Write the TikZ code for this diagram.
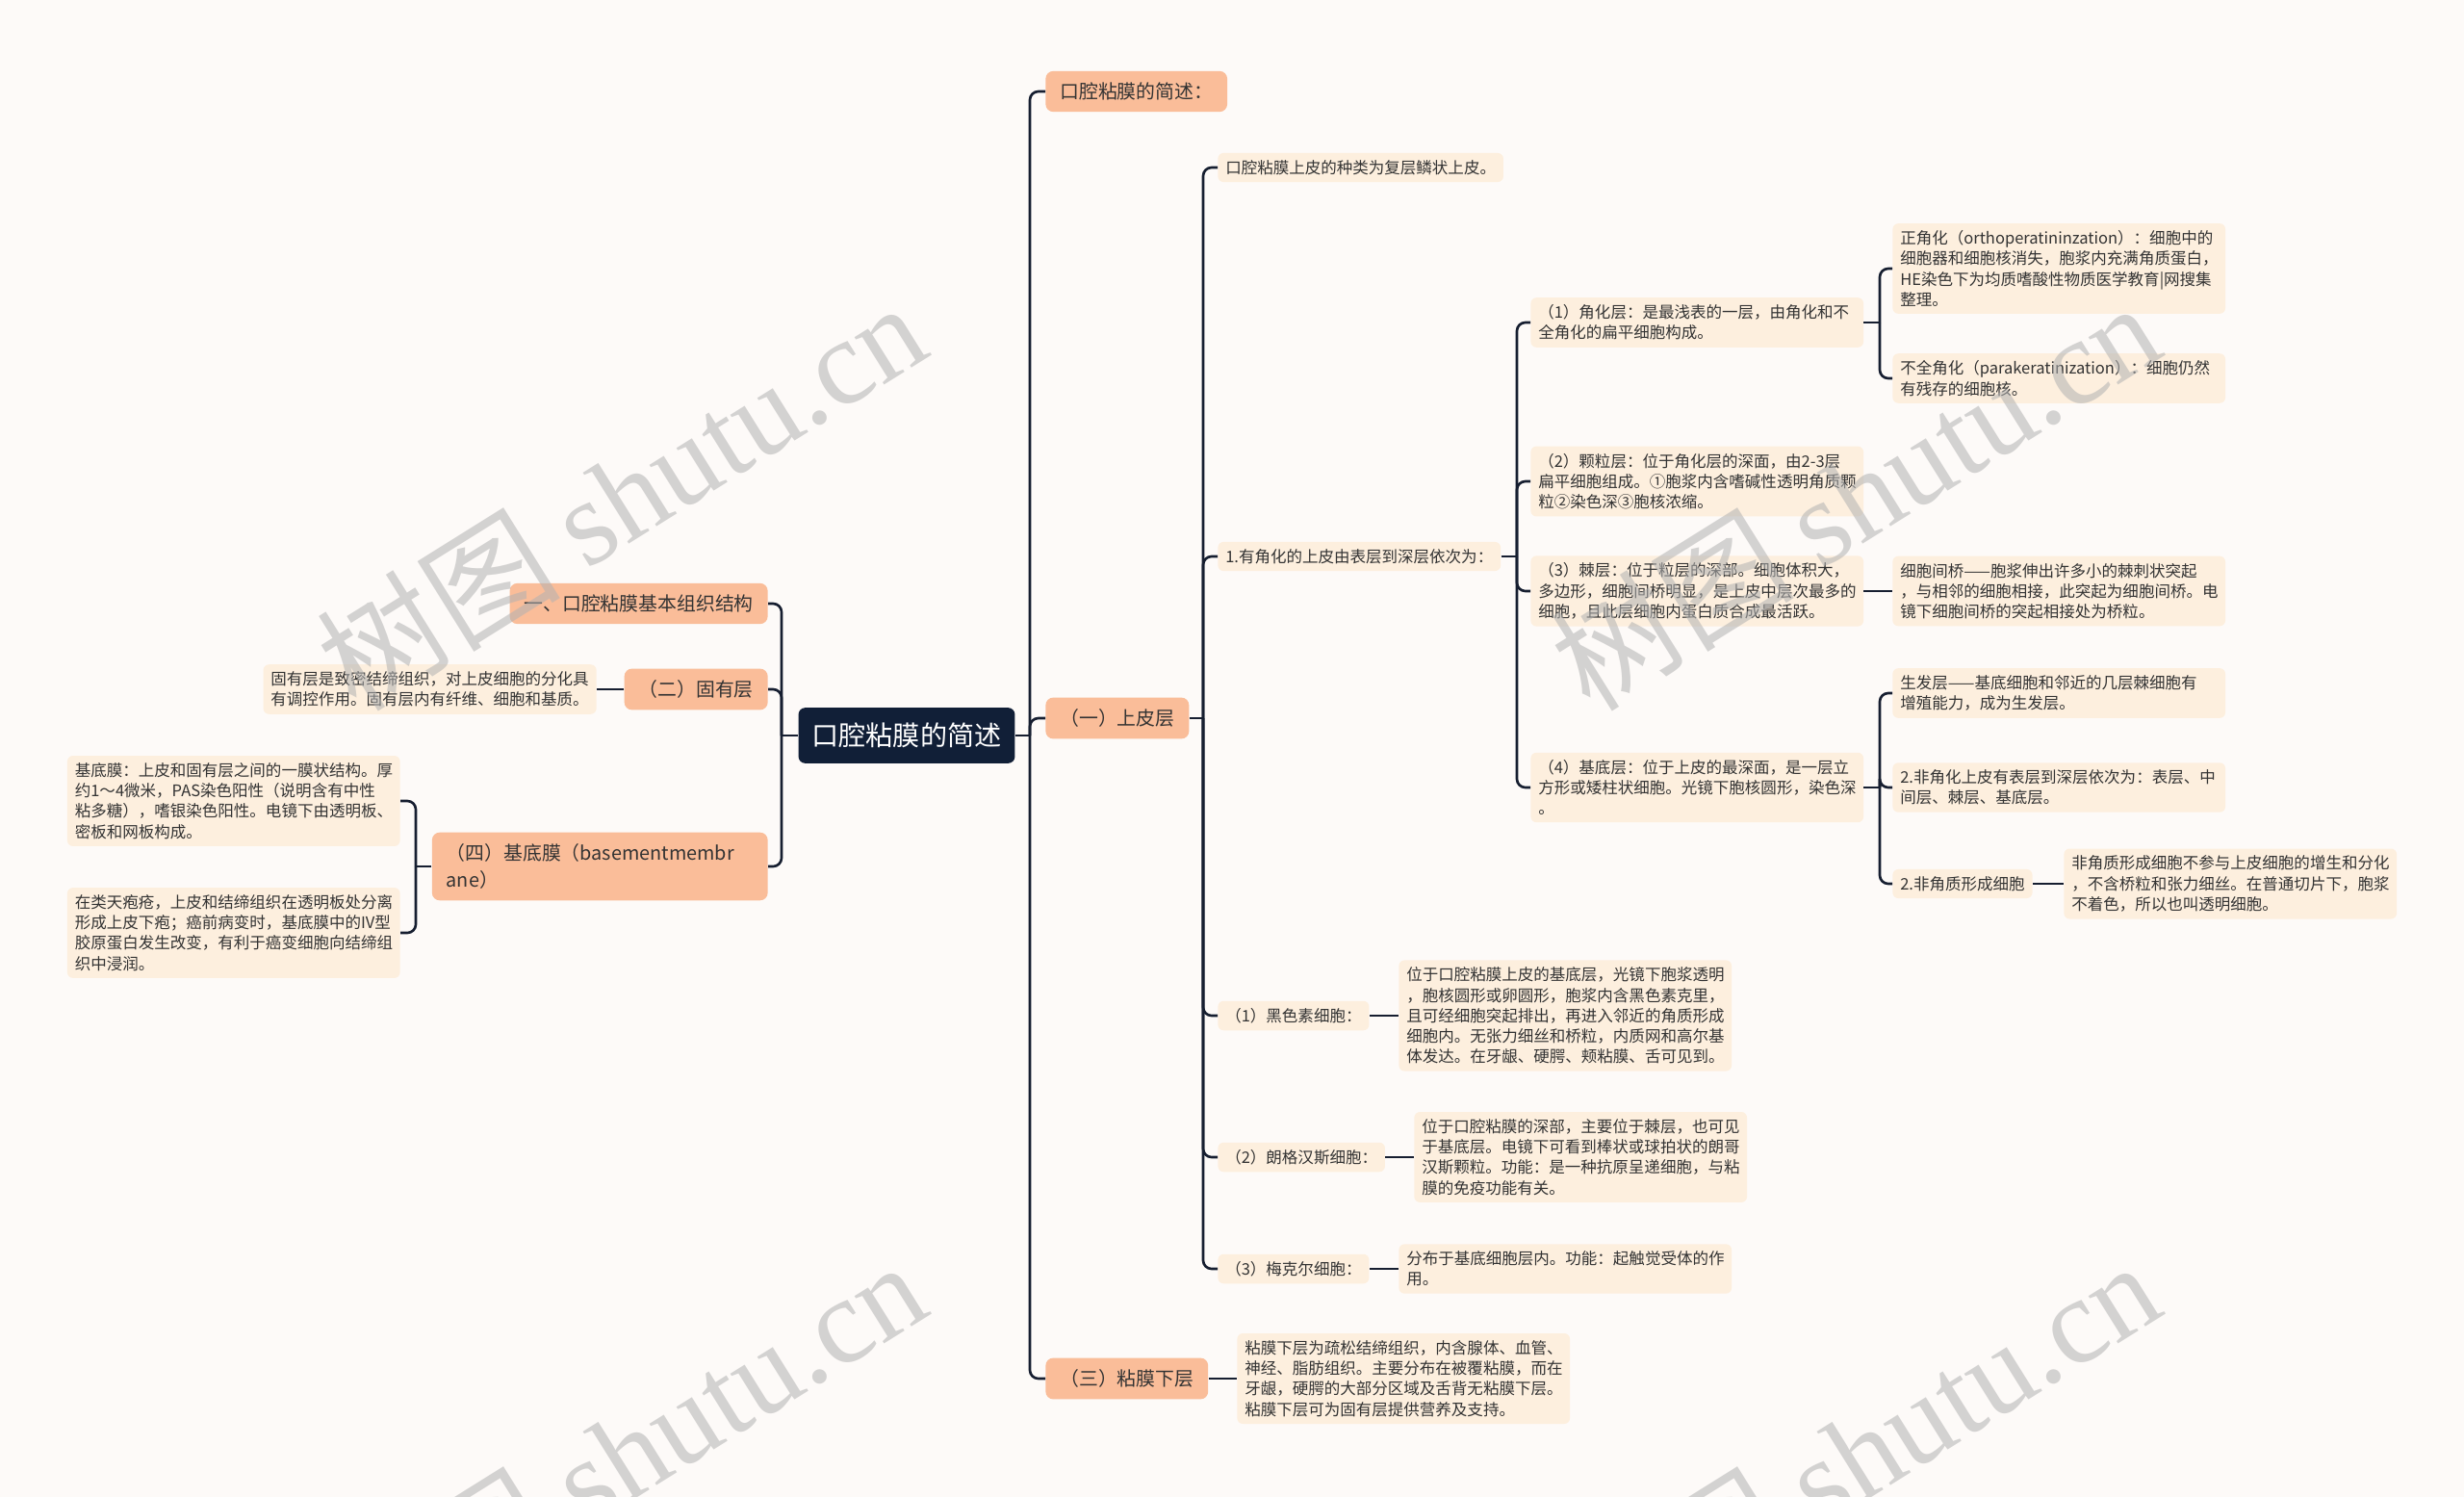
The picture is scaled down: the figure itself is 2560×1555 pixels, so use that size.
\documentclass[tikz,border=0pt]{standalone}
\usepackage{fontspec}
\setmainfont{Noto Sans CJK SC}
\newfontfamily\wmlatin{Liberation Serif}
\definecolor{OMbg}{RGB}{253,250,248}
\definecolor{OMnavy}{RGB}{17,31,55}
\definecolor{OMorange}{RGB}{250,189,153}
\definecolor{OMcream}{RGB}{253,239,222}
\definecolor{OMtext}{RGB}{51,51,51}
\definecolor{OMline}{RGB}{22,30,48}

\tikzset{OMroot/.style={fill=OMnavy,text=white,rounded corners=4pt,inner xsep=8pt,inner ysep=9pt,font=\fontsize{16}{19}\selectfont},
         OMmain/.style={fill=OMorange,text=OMtext,rounded corners=4.5pt,inner xsep=8.5pt,inner ysep=6.8pt,font=\fontsize{11.3}{15.8}\selectfont,align=left},
         OMleaf/.style={fill=OMcream,text=OMtext,rounded corners=3.4pt,inner xsep=4.5pt,inner ysep=4.2pt,font=\fontsize{9.4}{12.1}\selectfont,align=left},
         OMwide/.style={OMleaf,text width=6.6cm},
         OMlink/.style={draw=OMline,line width=1.5pt,rounded corners=5pt},
         OMmark/.style={text=gray!60,opacity=0.55,rotate=32,font=\fontsize{72}{72}\selectfont}}

\begin{document}
\begin{tikzpicture}[x=0.02cm,y=-0.02cm]
  \useasboundingbox (0,0) rectangle (2560,1555);
  \clip (0,0) rectangle (2560,1555);
  \fill[OMbg] (0,0) rectangle (2560,1555);
  % root and first level
  \node[OMroot] (root) at (942,764) {口腔粘膜的简述};
  \node[OMmain,anchor=west] (jianshu) at (1086,95) {口腔粘膜的简述：};
  \node[OMmain,anchor=west] (shangpi) at (1086,746) {（一）上皮层};
  \node[OMmain,anchor=west] (xiaceng) at (1086,1432) {（三）粘膜下层};
  \node[OMmain,anchor=east] (jiegou) at (798,627) {一、口腔粘膜基本组织结构};
  \node[OMmain,anchor=east] (guyou) at (798,716) {（二）固有层};
  \node[OMmain,anchor=east,text width=6.38cm] (jidimo) at (798,900) {（四）基底膜（basementmembr\\ane）};
  \coordinate (tR) at (1070,764);
  \coordinate (tL) at (812,764);
  \draw[OMlink] (root.east) -- (tR);
  \draw[OMlink] (root.west) -- (tL);
  \foreach \c in {jianshu,shangpi,xiaceng} \draw[OMlink] (tR) |- (\c.west);
  \foreach \c in {jiegou,guyou,jidimo} \draw[OMlink] (tL) |- (\c.east);
  % left side
  \node[OMleaf,anchor=east] (guyou1) at (620,716) {固有层是致密结缔组织，对上皮细胞的分化具\\有调控作用。固有层内有纤维、细胞和基质。};
  \draw[OMlink] (guyou.west) -- (guyou1.east);
  \node[OMwide,anchor=east] (jidimo1) at (416,832) {基底膜：上皮和固有层之间的一膜状结构。厚\\约1～4微米，PAS染色阳性（说明含有中性\\粘多糖），嗜银染色阳性。电镜下由透明板、\\密板和网板构成。};
  \node[OMwide,anchor=east] (jidimo2) at (416,969) {在类天疱疮，上皮和结缔组织在透明板处分离\\形成上皮下疱；癌前病变时，基底膜中的IV型\\胶原蛋白发生改变，有利于癌变细胞向结缔组\\织中浸润。};
  \coordinate (tF) at (432,900);
  \draw[OMlink] (jidimo.west) -- (tF);
  \foreach \c in {jidimo1,jidimo2} \draw[OMlink] (tF) |- (\c.east);
  % epithelium
  \node[OMleaf,anchor=west] (sp1) at (1265,174) {口腔粘膜上皮的种类为复层鳞状上皮。};
  \node[OMleaf,anchor=west] (sp2) at (1265,578) {1.有角化的上皮由表层到深层依次为：};
  \node[OMleaf,anchor=west] (sp3) at (1265,1055) {（1）黑色素细胞：};
  \node[OMleaf,anchor=west] (sp4) at (1265,1202) {（2）朗格汉斯细胞：};
  \node[OMleaf,anchor=west] (sp5) at (1265,1318) {（3）梅克尔细胞：};
  \coordinate (tB) at (1250,746);
  \draw[OMlink] (shangpi.east) -- (tB);
  \foreach \c in {sp1,sp2,sp3,sp4,sp5} \draw[OMlink] (tB) |- (\c.west);
  % keratinized layers
  \node[OMwide,anchor=west] (kl1) at (1590,335) {（1）角化层：是最浅表的一层，由角化和不\\全角化的扁平细胞构成。};
  \node[OMwide,anchor=west] (kl2) at (1590,500) {（2）颗粒层：位于角化层的深面，由2-3层\\扁平细胞组成。①胞浆内含嗜碱性透明角质颗\\粒②染色深③胞核浓缩。};
  \node[OMwide,anchor=west] (kl3) at (1590,614) {（3）棘层：位于粒层的深部。细胞体积大，\\多边形，细胞间桥明显，是上皮中层次最多的\\细胞，且此层细胞内蛋白质合成最活跃。};
  \node[OMwide,anchor=west] (kl4) at (1590,818) {（4）基底层：位于上皮的最深面，是一层立\\方形或矮柱状细胞。光镜下胞核圆形，染色深\\。};
  \coordinate (tK) at (1576,578);
  \draw[OMlink] (sp2.east) -- (tK);
  \foreach \c in {kl1,kl2,kl3,kl4} \draw[OMlink] (tK) |- (\c.west);
  \node[OMwide,anchor=west] (kl1a) at (1966,279) {正角化（orthoperatininzation）：细胞中的\\细胞器和细胞核消失，胞浆内充满角质蛋白，\\HE染色下为均质嗜酸性物质医学教育|网搜集\\整理。};
  \node[OMwide,anchor=west] (kl1b) at (1966,393) {不全角化（parakeratinization）：细胞仍然\\有残存的细胞核。};
  \coordinate (tK1) at (1953,335);
  \draw[OMlink] (kl1.east) -- (tK1);
  \foreach \c in {kl1a,kl1b} \draw[OMlink] (tK1) |- (\c.west);
  \node[OMwide,anchor=west] (kl3a) at (1966,614) {细胞间桥——胞浆伸出许多小的棘刺状突起\\，与相邻的细胞相接，此突起为细胞间桥。电\\镜下细胞间桥的突起相接处为桥粒。};
  \draw[OMlink] (kl3.east) -- (kl3a.west);
  \node[OMwide,anchor=west] (kl4a) at (1966,720) {生发层——基底细胞和邻近的几层棘细胞有\\增殖能力，成为生发层。};
  \node[OMwide,anchor=west] (kl4b) at (1966,818) {2.非角化上皮有表层到深层依次为：表层、中\\间层、棘层、基底层。};
  \node[OMleaf,anchor=west] (kl4c) at (1966,918) {2.非角质形成细胞};
  \coordinate (tK4) at (1953,818);
  \draw[OMlink] (kl4.east) -- (tK4);
  \foreach \c in {kl4a,kl4b,kl4c} \draw[OMlink] (tK4) |- (\c.west);
  \node[OMwide,anchor=west] (kl4d) at (2144,918) {非角质形成细胞不参与上皮细胞的增生和分化\\，不含桥粒和张力细丝。在普通切片下，胞浆\\不着色，所以也叫透明细胞。};
  \draw[OMlink] (kl4c.east) -- (kl4d.west);
  % other cells
  \node[OMwide,anchor=west] (sp3a) at (1453,1055) {位于口腔粘膜上皮的基底层，光镜下胞浆透明\\，胞核圆形或卵圆形，胞浆内含黑色素克里，\\且可经细胞突起排出，再进入邻近的角质形成\\细胞内。无张力细丝和桥粒，内质网和高尔基\\体发达。在牙龈、硬腭、颊粘膜、舌可见到。};
  \node[OMwide,anchor=west] (sp4a) at (1469,1202) {位于口腔粘膜的深部，主要位于棘层，也可见\\于基底层。电镜下可看到棒状或球拍状的朗哥\\汉斯颗粒。功能：是一种抗原呈递细胞，与粘\\膜的免疫功能有关。};
  \node[OMwide,anchor=west] (sp5a) at (1453,1318) {分布于基底细胞层内。功能：起触觉受体的作\\用。};
  \foreach \c in {sp3,sp4,sp5} \draw[OMlink] (\c.east) -- (\c a.west);
  % submucosa
  \node[OMwide,anchor=west] (xiaceng1) at (1285,1432) {粘膜下层为疏松结缔组织，内含腺体、血管、\\神经、脂肪组织。主要分布在被覆粘膜，而在\\牙龈，硬腭的大部分区域及舌背无粘膜下层。\\粘膜下层可为固有层提供营养及支持。};
  \draw[OMlink] (xiaceng.east) -- (xiaceng1.west);
  % watermarks
  \foreach \x/\y [count=\i] in {645/514,1927/514,645/1510,1927/1510}
    \node[OMmark] (wm\i) at (\x,\y) {树图 {\wmlatin shutu.cn}};
\end{tikzpicture}
\end{document}
